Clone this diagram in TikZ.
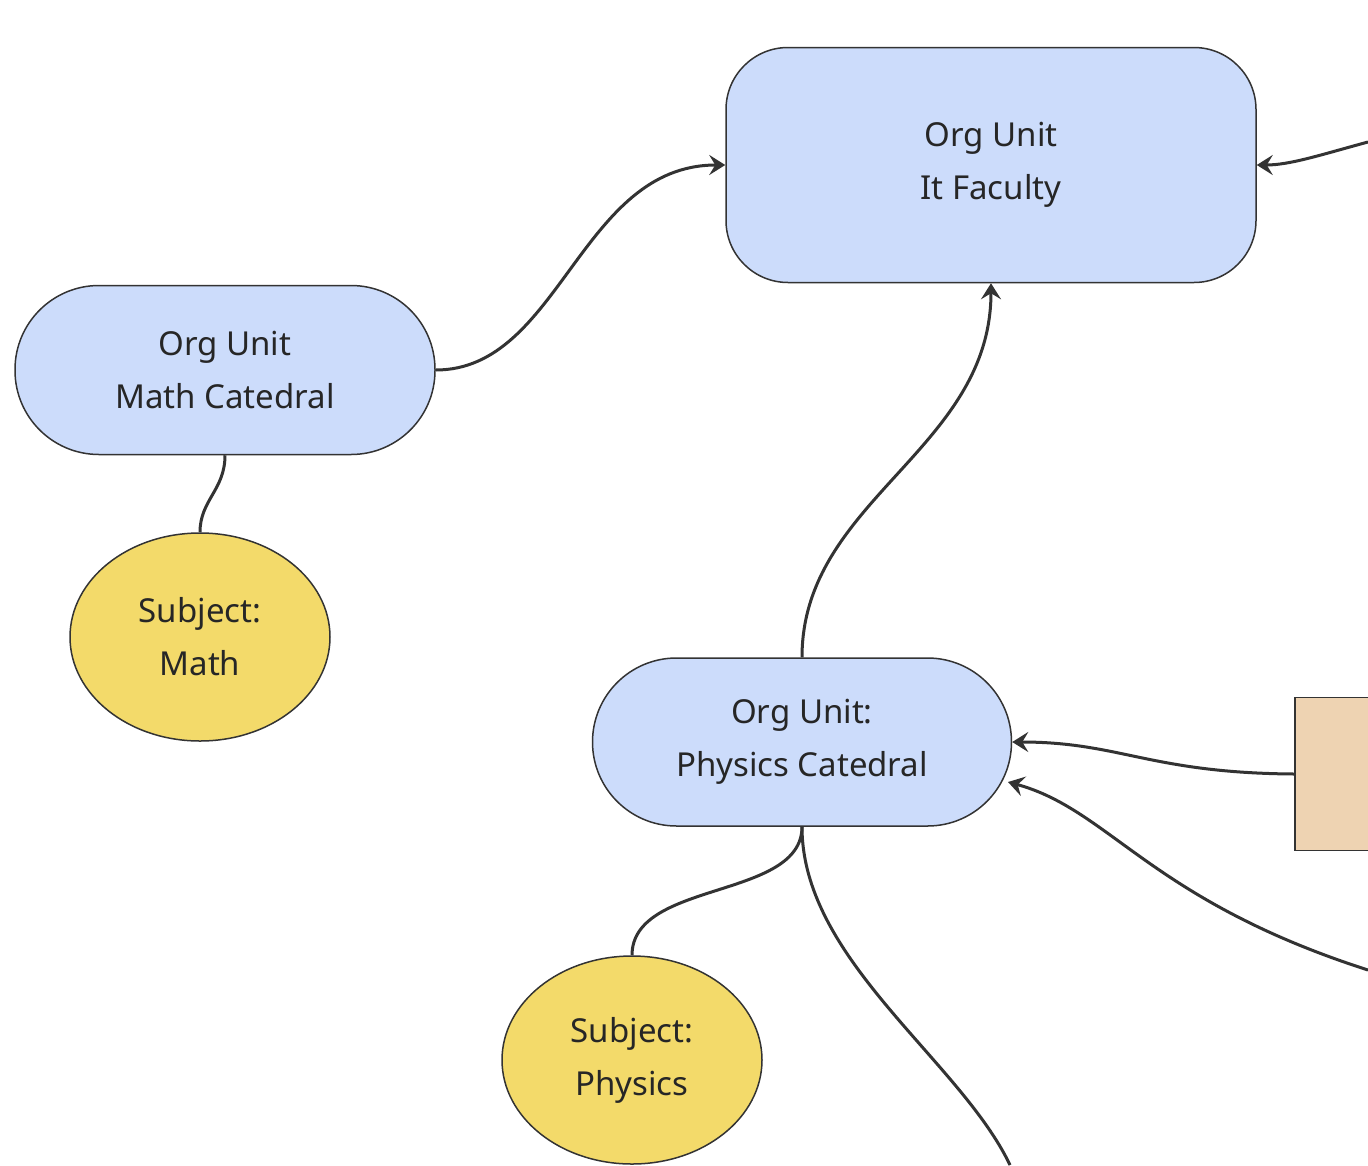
\documentclass[tikz,border=0pt]{standalone}
\usepackage{fontspec}
\setmainfont{Noto Sans}
\usetikzlibrary{shapes.geometric,arrows.meta}
\definecolor{bl}{HTML}{CCDCFB}
\definecolor{yl}{HTML}{F3DA6A}
\definecolor{tn}{HTML}{EED3B2}
\definecolor{ln}{HTML}{333333}
\begin{document}
\begin{tikzpicture}[x=1pt,y=-1pt,
  every node/.style={font=\fontsize{33}{53}\selectfont, align=center, text=black!85},
  org/.style={draw=ln, line width=1.5pt, fill=bl, rounded corners=#1},
  subj/.style={draw=ln, line width=1.5pt, fill=yl, ellipse, minimum width=260pt, minimum height=208pt},
  edge/.style={draw=ln, line width=3pt},
  arr/.style={edge, -{Stealth[length=16pt,width=20pt,inset=6pt]}}]
\useasboundingbox (0,0) rectangle (1368,1165);
\clip (0,0) rectangle (1368,1165);
\node[org=62pt, minimum width=530pt, minimum height=235pt] (it) at (991,165) {\textbf{Org Unit}\\It Faculty};
\node[org=84pt, minimum width=420pt, minimum height=169pt] (math) at (225,370) {\textbf{Org Unit}\\Math Catedral};
\node[org=84pt, minimum width=419pt, minimum height=168pt] (phys) at (802,742) {\textbf{Org Unit:}\\Physics Catedral};
\node[subj] (sm) at (200,637) {\textbf{Subject:}\\Math};
\node[subj] (sp) at (632,1060) {\textbf{Subject:}\\Physics};
\node[draw=ln, line width=1.5pt, fill=tn, minimum width=120pt, minimum height=153pt] (tan) at (1355,774) {};
\coordinate (r1) at (1368,142);
\coordinate (r2) at (1368,970);
\coordinate (b1) at (1010,1165);
\draw[arr] (math.east) .. controls (560,370) and (580,165) .. (it.west);
\draw[arr] (phys.north) .. controls (802,500) and (991,450) .. (it.south);
\draw[arr] (r1) .. controls (1320,155) and (1290,165) .. (it.east);
\draw[arr] (tan.west) .. controls (1150,773) and (1120,742) .. (phys.east);
\draw[arr] (r2) .. controls (1150,900) and (1110,810) .. (1008,782);
\draw[edge] (math.south) .. controls (225,490) and (200,500) .. (sm.north);
\draw[edge] (phys.south) .. controls (802,900) and (632,880) .. (sp.north);
\draw[edge] (phys.south) .. controls (802,960) and (960,1060) .. (b1);
\end{tikzpicture}
\end{document}
